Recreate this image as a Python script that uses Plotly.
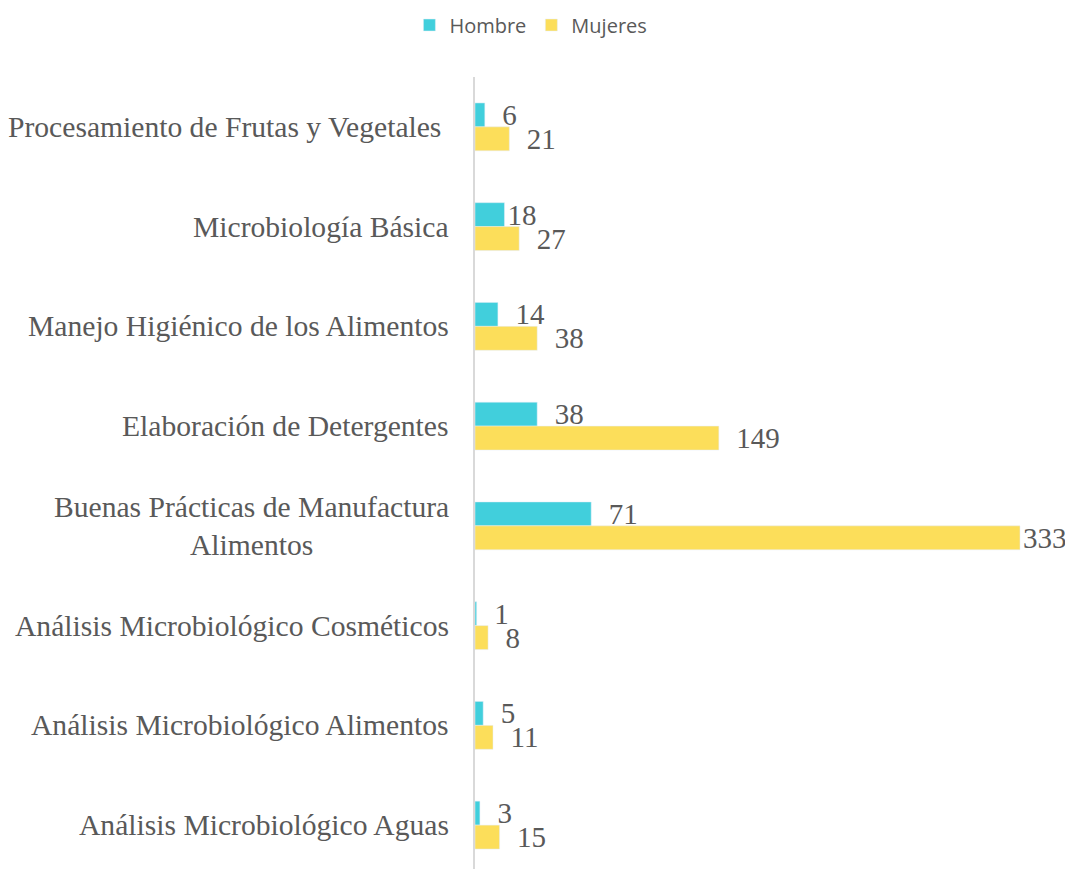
import plotly.graph_objects as go

categories = [
    "Procesamiento de Frutas y Vegetales\u00a0",
    "Microbiología Básica",
    "Manejo Higiénico de los Alimentos",
    "Elaboración de Detergentes",
    "Buenas Prácticas de Manufactura<br>Alimentos",
    "Análisis Microbiológico Cosméticos",
    "Análisis Microbiológico Alimentos",
    "Análisis Microbiológico Aguas",
]
hombre = [6, 18, 14, 38, 71, 1, 5, 3]
mujeres = [21, 27, 38, 149, 333, 8, 11, 15]

# labels that sit tight against their bar end in the original
tight_hombre = {1}
tight_mujeres = {4}

GRAY = "#595959"
SERIF = "Liberation Serif"
PAD = "\u00a0\u00a0"


def labels(values, tight):
    return [(str(v) if i in tight else PAD + str(v)) for i, v in enumerate(values)]


fig = go.Figure()
fig.add_trace(go.Bar(
    y=list(range(len(categories))), x=hombre, name="Hombre", orientation="h",
    marker=dict(color="#41CFDC"), text=labels(hombre, tight_hombre),
    textposition="outside", constraintext="none",
    textfont=dict(family=SERIF, size=29, color=GRAY), cliponaxis=False,
))
fig.add_trace(go.Bar(
    y=list(range(len(categories))), x=mujeres, name="Mujeres", orientation="h",
    marker=dict(color="#FCDE5A"), text=labels(mujeres, tight_mujeres),
    textposition="outside", constraintext="none",
    textfont=dict(family=SERIF, size=29, color=GRAY), cliponaxis=False,
))

for i, c in enumerate(categories):
    fig.add_annotation(
        x=0, xref="paper", xanchor="right", xshift=-24,
        y=i, yref="y", yanchor="middle",
        text=c, showarrow=False, align="center",
        font=dict(family=SERIF, size=29.6, color=GRAY),
    )

fig.update_layout(
    width=1065, height=861,
    margin=dict(l=467, r=17, t=69, b=0),
    paper_bgcolor="white", plot_bgcolor="white",
    barmode="group", bargap=0.52, bargroupgap=0,
    showlegend=True,
    legend=dict(
        orientation="h", x=0.491, xanchor="center", xref="container",
        y=1 - 17 / 861, yanchor="middle", yref="container",
        font=dict(family="Open Sans", size=20, color=GRAY),
        tracegroupgap=0,
    ),
    xaxis=dict(range=[0, 355], showgrid=False, zeroline=False,
               showticklabels=False, showline=False),
    yaxis=dict(range=[7.44, -0.5], showgrid=False, zeroline=False,
               showticklabels=False, showline=True, linecolor="#D9D9D9",
               linewidth=2, ticks=""),
)

fig.write_html("out.html")
